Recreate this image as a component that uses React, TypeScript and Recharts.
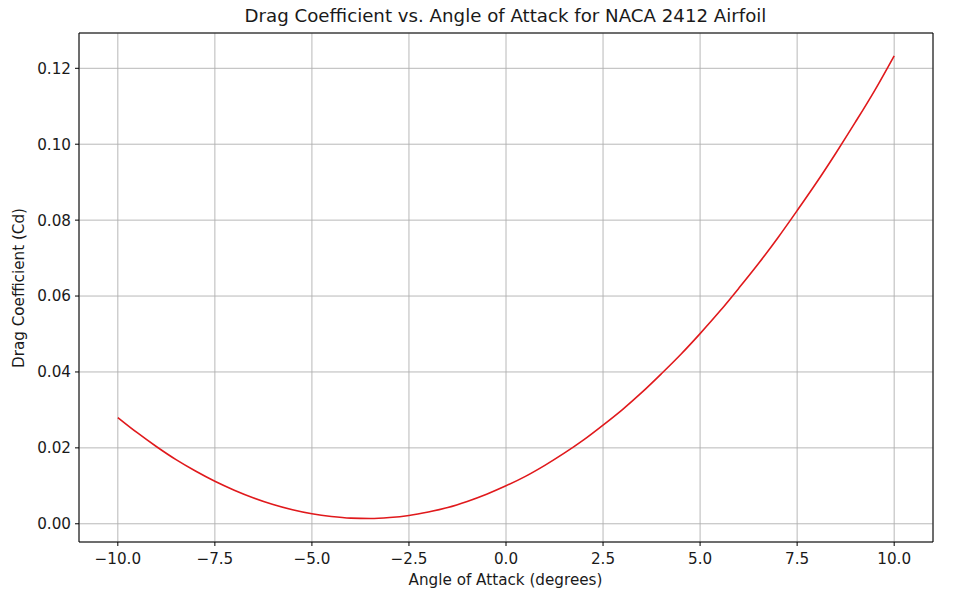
import {
  CartesianGrid,
  Line,
  LineChart,
  ReferenceArea,
  XAxis,
  YAxis,
} from "recharts";

// angle of attack (deg), read every half degree
const angles = [
  -10, -9.5, -9, -8.5, -8, -7.5, -7, -6.5, -6, -5.5, -5, -4.5, -4, -3.5, -3,
  -2.5, -2, -1.5, -1, -0.5, 0, 0.5, 1, 1.5, 2, 2.5, 3, 3.5, 4, 4.5, 5, 5.5, 6,
  6.5, 7, 7.5, 8, 8.5, 9, 9.5, 10,
];

// drag coefficient
const cd = [
  0.028, 0.024, 0.0203, 0.0169, 0.0139, 0.0112, 0.00885, 0.0068, 0.00508,
  0.0037, 0.00263, 0.0019, 0.00148, 0.0014, 0.00165, 0.0022, 0.00312, 0.0043,
  0.0059, 0.0078, 0.01, 0.0125, 0.0154, 0.0186, 0.0221, 0.026, 0.0301, 0.0346,
  0.0395, 0.0446, 0.0501, 0.0559, 0.0621, 0.0685, 0.0753, 0.0825, 0.0899,
  0.0977, 0.1058, 0.1142, 0.1233,
];

const xTicks = [-10, -7.5, -5, -2.5, 0, 2.5, 5, 7.5, 10];
const yTicks = [0, 0.02, 0.04, 0.06, 0.08, 0.1, 0.12];

const data = angles.map((a, i) => ({ aoa: a, cd: cd[i] }));

const FONT = "'DejaVu Sans', sans-serif";
const minus = (s: string) => s.replace("-", "\u2212");

const tickStyle = { fontSize: 15.2, fill: "#1a1a1a", fontFamily: FONT };

export default function App() {
  return (
    <div
      style={{
        position: "absolute",
        left: 0,
        top: 0,
        width: 980,
        height: 606,
        background: "#fff",
        fontFamily: FONT,
      }}
    >
      <div
        style={{
          position: "absolute",
          left: 0,
          width: 1011,
          top: 5,
          textAlign: "center",
          fontSize: 18.2,
          color: "#1a1a1a",
        }}
      >
        Drag Coefficient vs. Angle of Attack for NACA 2412 Airfoil
      </div>
      <div
        style={{
          position: "absolute",
          left: 0,
          width: 1011,
          top: 571,
          textAlign: "center",
          fontSize: 15.2,
          color: "#1a1a1a",
        }}
      >
        Angle of Attack (degrees)
      </div>
      <div
        style={{
          position: "absolute",
          left: 19,
          top: 288,
          transform: "translate(-50%, -50%) rotate(-90deg)",
          whiteSpace: "nowrap",
          fontSize: 15.2,
          color: "#1a1a1a",
        }}
      >
        Drag Coefficient (Cd)
      </div>
      <LineChart
        width={980}
        height={606}
        data={data}
        margin={{ top: 33, right: 47, bottom: 34, left: 19 }}
      >
        <CartesianGrid stroke="#b0b0b0" strokeWidth={0.9} />
        <XAxis
          type="number"
          dataKey="aoa"
          domain={[-11, 11]}
          ticks={xTicks}
          allowDataOverflow
          height={30}
          tickFormatter={(v: number) => minus(v.toFixed(1))}
          tick={tickStyle}
          tickSize={4}
          tickMargin={7}
          axisLine={false}
          tickLine={{ stroke: "#000" }}
        />
        <YAxis
          type="number"
          domain={[-0.0048, 0.1293]}
          ticks={yTicks}
          allowDataOverflow
          width={60}
          tickFormatter={(v: number) => v.toFixed(2)}
          tick={tickStyle}
          tickSize={4}
          tickMargin={4}
          axisLine={false}
          tickLine={{ stroke: "#000" }}
        />
        <Line
          type="monotone"
          dataKey="cd"
          stroke="#e0191c"
          strokeWidth={1.6}
          dot={false}
          isAnimationActive={false}
        />
        <ReferenceArea
          x1={-11}
          x2={11}
          y1={-0.0048}
          y2={0.1293}
          fill="none"
          stroke="#000"
          strokeWidth={1}
          ifOverflow="visible"
        />
      </LineChart>
    </div>
  );
}
